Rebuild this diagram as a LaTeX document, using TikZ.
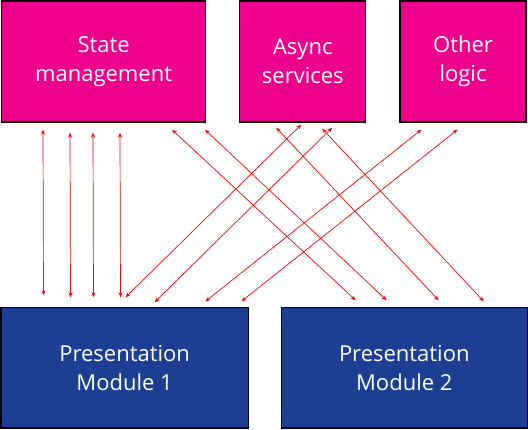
\documentclass[tikz,border=0pt]{standalone}
\usepackage{xcolor}
\usepackage{fontspec}
\setmainfont{Open Sans}
\usepackage{tikz}
\usetikzlibrary{shapes,arrows,arrows.meta,positioning,fit,calc}

\definecolor{logicpink}{HTML}{EC008C}
\definecolor{modblue}{HTML}{1C3F94}

\tikzset{
    box/.style={rectangle, draw=black, line width=1.2pt, inner sep=0pt, text=white,
        align=center, font=\fontsize{22}{29}\selectfont},
    logicbox/.style={box, fill=logicpink, minimum height=121pt},
    modbox/.style={box, fill=modblue, minimum width=247pt, minimum height=120pt},
    link/.style={draw=red, line width=0.7pt, {Stealth[length=5pt,width=4pt]}-{Stealth[length=5pt,width=4pt]}}
}

\begin{document}
\begin{tikzpicture}[x=1pt, y=1pt]
    \useasboundingbox (0,0) rectangle (528,429);
    \node (sm) [logicbox, minimum width=204pt, anchor=north west] at (1,428.5) {State\\management};
    \node (as) [logicbox, minimum width=126pt, right=33pt of sm] {Async\\services};
    \node (ol) [logicbox, minimum width=126pt, right=33pt of as] {Other\\logic};
    \node (pm1) [modbox, anchor=south west] at (0.5,0.5) {Presentation\\Module 1};
    \node (pm2) [modbox, minimum width=246pt, right=32pt of pm1] {Presentation\\Module 2};

    % state management <-> module 1
    \draw [link] ([xshift=42pt,yshift=-7pt]sm.south west) -- ([xshift=43pt,yshift=12pt]pm1.north west);
    \draw [link] ([xshift=69pt,yshift=-10pt]sm.south west) -- ([xshift=70pt,yshift=10pt]pm1.north west);
    \draw [link] ([xshift=92pt,yshift=-10pt]sm.south west) -- ([xshift=93pt,yshift=10pt]pm1.north west);
    \draw [link] ([xshift=119pt,yshift=-10pt]sm.south west) -- ([xshift=120pt,yshift=10pt]pm1.north west);

    % logic <-> module 2
    \draw [link] ([xshift=171pt,yshift=-7pt]sm.south west) -- ([xshift=75pt,yshift=7pt]pm2.north west);
    \draw [link] ([xshift=204pt,yshift=-7pt]sm.south west) -- ([xshift=106pt,yshift=7pt]pm2.north west);
    \draw [link] ([xshift=37pt,yshift=-5pt]as.south west) -- ([xshift=158pt,yshift=7pt]pm2.north west);
    \draw [link] ([xshift=83pt,yshift=-6pt]as.south west) -- ([xshift=203pt,yshift=6pt]pm2.north west);

    % module 1 <-> async, other
    \draw [link] ([xshift=125pt,yshift=10pt]pm1.north west) -- ([xshift=62pt,yshift=-2pt]as.south west);
    \draw [link] ([xshift=154pt,yshift=5pt]pm1.north west) -- ([xshift=93pt,yshift=-5pt]as.south west);
    \draw [link] ([xshift=205pt,yshift=6pt]pm1.north west) -- ([xshift=22pt,yshift=-7pt]ol.south west);
    \draw [link] ([xshift=241pt,yshift=6pt]pm1.north west) -- ([xshift=58pt,yshift=-7pt]ol.south west);
\end{tikzpicture}
\end{document}
